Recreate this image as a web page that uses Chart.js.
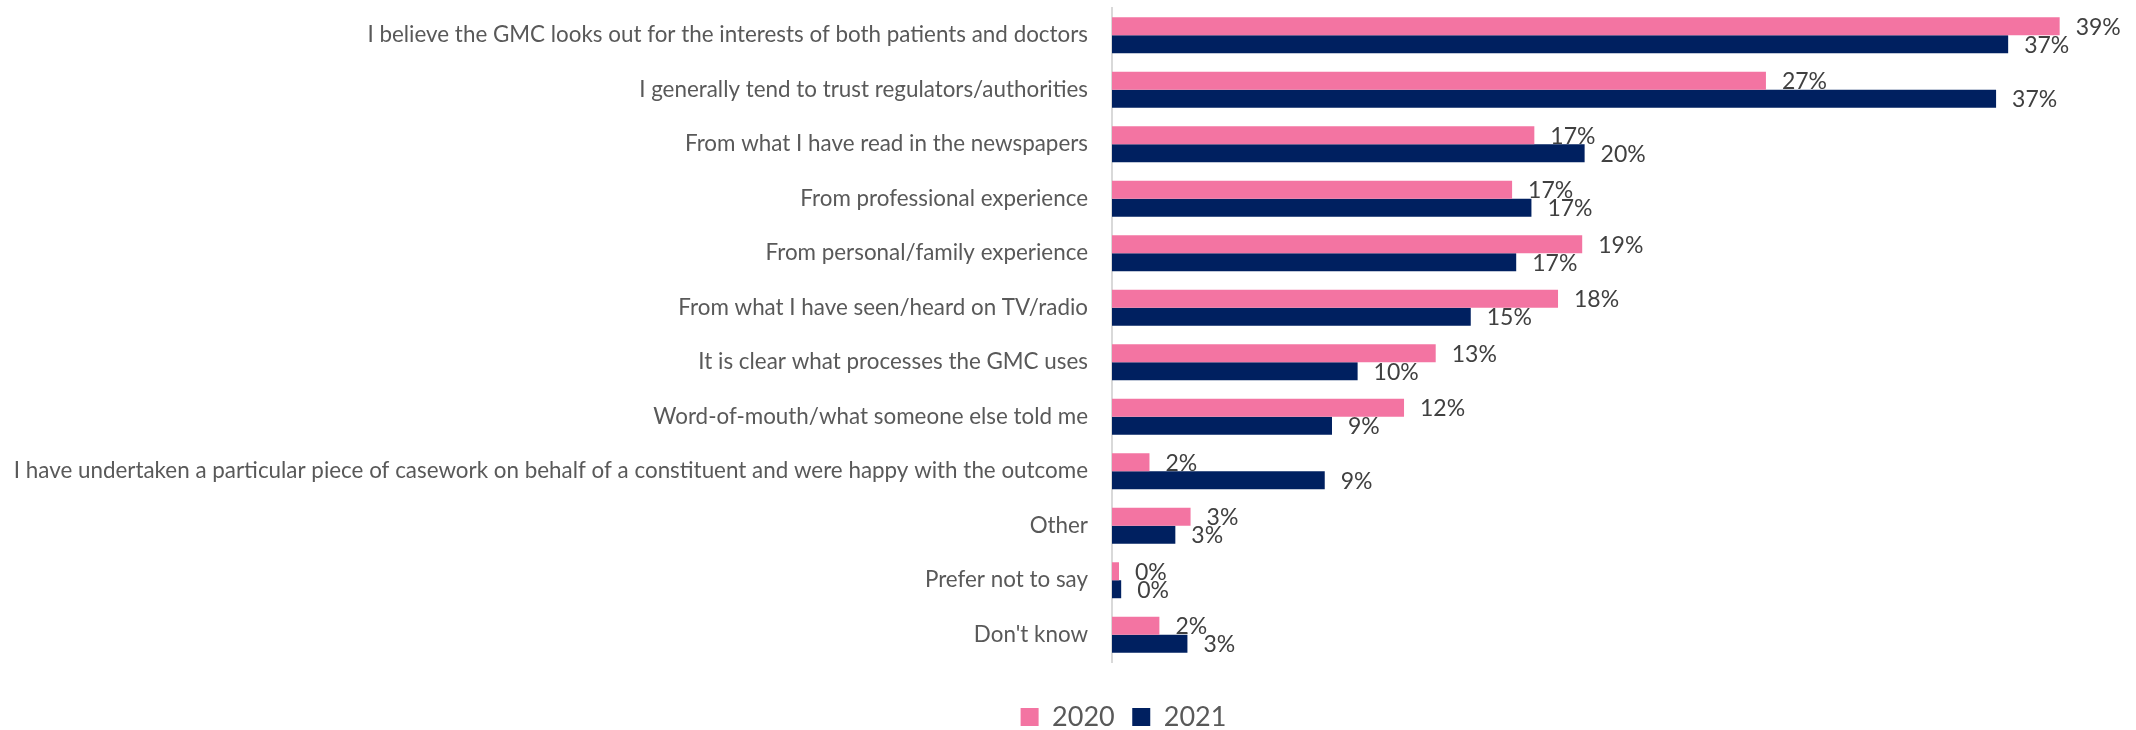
<!DOCTYPE html>
<html>
<head>
<meta charset="utf-8">
<title>Reasons for trusting the GMC</title>
<script src="https://cdn.jsdelivr.net/npm/chart.js@4.4.0/dist/chart.umd.min.js"></script>
<style>
	html, body { margin: 0; padding: 0; background: #fff; }
	#chart-wrap { width: 2136px; height: 730px; position: relative; }
</style>
</head>
<body>
<div id="chart-wrap"><canvas id="bar-chartcanvas"></canvas></div>
<script>
// reasons, top to bottom
var reasons = [
	"I believe the GMC looks out for the interests of both patients and doctors",
	"I generally tend to trust regulators/authorities",
	"From what I have read in the newspapers",
	"From professional experience",
	"From personal/family experience",
	"From what I have seen/heard on TV/radio",
	"It is clear what processes the GMC uses",
	"Word-of-mouth/what someone else told me",
	"I have undertaken a particular piece of casework on behalf of a constituent and were happy with the outcome",
	"Other",
	"Prefer not to say",
	"Don't know"
];

// share of respondents, %
var values2020 = [39.2, 27.05, 17.47, 16.55, 19.45, 18.45, 13.39, 12.08, 1.55, 3.25, 0.29, 1.96];
var values2021 = [37.07, 36.57, 19.55, 17.35, 16.72, 14.84, 10.16, 9.10, 8.80, 2.62, 0.38, 3.12];

var seriesNames = ["2020", "2021"];
var seriesColors = ["#F374A2", "#002060"];
var xMax = 40;

// percent label just past the end of each bar
var barLabels = {
	id: "barLabels",
	afterDatasetsDraw: function(chart) {
		var ctx = chart.ctx;
		ctx.save();
		ctx.font = "23px Lato";
		ctx.fillStyle = "#404040";
		ctx.textAlign = "left";
		ctx.textBaseline = "middle";
		chart.data.datasets.forEach(function(ds, i) {
			chart.getDatasetMeta(i).data.forEach(function(bar, j) {
				ctx.fillText(Math.round(ds.data[j]) + "%", bar.x + 16, bar.y + 1);
			});
		});
		ctx.restore();
	}
};

// the legend in the original sits right of the page centre and lower down
var legendShift = {
	id: "legendShift",
	afterLayout: function(chart) {
		var lg = chart.legend;
		if (!lg) return;
		lg.left += 84;
		lg.right += 84;
		lg.top += 24;
		lg.bottom += 24;
	}
};

var ctx = document.getElementById("bar-chartcanvas");

var chart = new Chart(ctx, {
	type: "bar",
	data: {
		labels: reasons,
		datasets: [
			{
				label: seriesNames[0],
				data: values2020,
				backgroundColor: seriesColors[0],
				categoryPercentage: 0.66,
				barPercentage: 1
			},
			{
				label: seriesNames[1],
				data: values2021,
				backgroundColor: seriesColors[1],
				categoryPercentage: 0.66,
				barPercentage: 1
			}
		]
	},
	options: {
		indexAxis: "y",
		responsive: true,
		maintainAspectRatio: false,
		animation: false,
		layout: {
			padding: { top: 8, right: 57, bottom: 13.5, left: 0 }
		},
		scales: {
			x: {
				display: false,
				min: 0,
				max: xMax
			},
			y: {
				grid: { display: false, drawTicks: false },
				border: { display: true, color: "#D9D9D9", width: 2 },
				ticks: {
					autoSkip: false,
					padding: 24,
					color: "#595959",
					font: { family: "Lato", size: 22.4 }
				},
				afterFit: function(scale) {
					// fixed axis position, no extra room above/below for labels
					scale.width = 1112;
					scale.paddingTop = 0;
					scale.paddingBottom = 0;
				}
			}
		},
		plugins: {
			legend: {
				position: "bottom",
				labels: {
					boxWidth: 18,
					boxHeight: 18,
					padding: 17.5,
					color: "#595959",
					font: { family: "Lato", size: 27 }
				}
			},
			tooltip: { enabled: false }
		}
	},
	plugins: [barLabels, legendShift]
});
</script>
</body>
</html>
